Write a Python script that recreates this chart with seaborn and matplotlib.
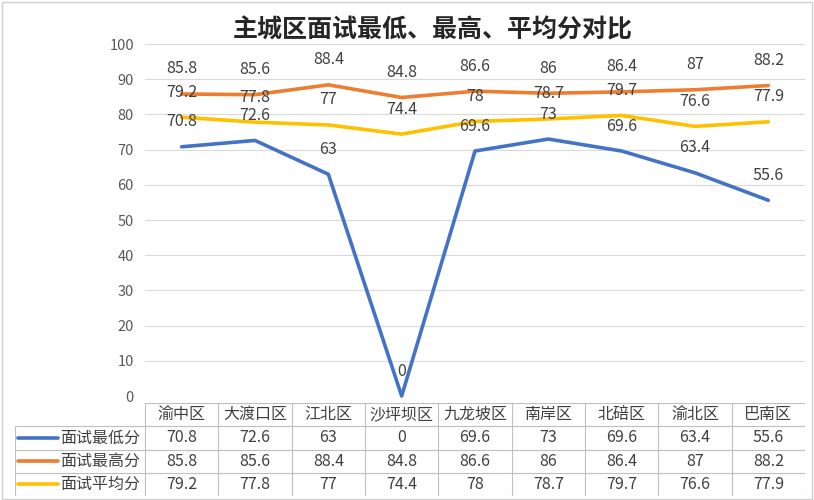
import pandas as pd
import matplotlib
matplotlib.use('Agg')
import matplotlib.pyplot as plt
import seaborn as sns
from matplotlib.patches import Rectangle

# chart data
districts = ['渝中区', '大渡口区', '江北区', '沙坪坝区', '九龙坡区', '南岸区', '北碚区', '渝北区', '巴南区']
min_scores = [70.8, 72.6, 63, 0, 69.6, 73, 69.6, 63.4, 55.6]
max_scores = [85.8, 85.6, 88.4, 84.8, 86.6, 86, 86.4, 87, 88.2]
avg_scores = [79.2, 77.8, 77, 74.4, 78, 78.7, 79.7, 76.6, 77.9]
series_names = ['面试最低分', '面试最高分', '面试平均分']
yticks = [0, 10, 20, 30, 40, 50, 60, 70, 80, 90, 100]

colors = {'面试最低分': '#4472C4', '面试最高分': '#ED7D31', '面试平均分': '#FFC000'}

sns.set_style('white')
plt.rcParams['font.family'] = ['Noto Sans CJK SC', 'DejaVu Sans']

# long format for seaborn
rows = []
for name, vals in zip(series_names, [min_scores, max_scores, avg_scores]):
    for i, v in enumerate(vals):
        rows.append({'pos': i, 'district': districts[i], 'series': name, 'score': v})
df = pd.DataFrame(rows)

fig = plt.figure(figsize=(8.14, 5.0), dpi=100)
ax = fig.add_axes([145 / 814, 1 - 396 / 500, 660 / 814, 352 / 500])

for y in yticks:
    ax.axhline(y, color='#D9D9D9', lw=0.8, zorder=0)

sns.lineplot(data=df, x='pos', y='score', hue='series', palette=colors,
             hue_order=series_names, linewidth=2.6, legend=False, sort=False,
             ax=ax, clip_on=False, zorder=3)

# data labels above each point
for name, vals in zip(series_names, [min_scores, max_scores, avg_scores]):
    for i, v in enumerate(vals):
        ax.annotate(f'{v:g}', (i, v), xytext=(0, 18), textcoords='offset points',
                    ha='center', va='center', fontsize=11.5, color='#404040', zorder=5)

ax.set_xlim(-0.5, len(districts) - 0.5)
ax.set_ylim(0, 100)
ax.set_yticks(yticks)
ax.set_yticklabels([str(t) for t in yticks], fontsize=10.5, color='#595959')
ax.set_xticks([])
ax.tick_params(axis='y', length=0, pad=8)
ax.set_xlabel('')
ax.set_ylabel('')
for s in ax.spines.values():
    s.set_visible(False)

# data table under the chart
tab = fig.add_axes([15 / 814, 4 / 500, 790 / 814, 93 / 500])
left = -0.5 - 130 / 73.33
right = len(districts) - 0.5
tab.set_xlim(left, right)
tab.set_ylim(4, 0)
tab.axis('off')
lc = '#BFBFBF'
# header row
tab.plot([-0.5, right], [0, 0], color=lc, lw=0.8)
for k in range(len(districts) + 1):
    tab.plot([k - 0.5, k - 0.5], [0, 4], color=lc, lw=0.8)
for r in range(1, 5):
    tab.plot([left, right], [r, r], color=lc, lw=0.8)
tab.plot([left, left], [1, 4], color=lc, lw=0.8)
for i, d in enumerate(districts):
    tab.text(i, 0.5, d, ha='center', va='center', fontsize=11.5, color='#404040')
for r, (name, vals) in enumerate(zip(series_names, [min_scores, max_scores, avg_scores]), start=1):
    tab.plot([left + 0.04, left + 0.58], [r + 0.5, r + 0.5], color=colors[name], lw=2.6,
             solid_capstyle='round')
    tab.text(left + 0.62, r + 0.5, name, ha='left', va='center', fontsize=11.5, color='#404040')
    for i, v in enumerate(vals):
        tab.text(i, r + 0.5, f'{v:g}', ha='center', va='center', fontsize=11.5, color='#404040')

fig.text(433 / 814, 1 - 30 / 500, '主城区面试最低、最高、平均分对比', ha='center', va='center',
         fontsize=18, fontweight='bold', color='#262626')

fig.patches.append(Rectangle((0.002, 0.003), 0.995, 0.994, transform=fig.transFigure,
                             fill=False, edgecolor='#D0D0D0', lw=1))

fig.savefig('out.png', dpi=100)
